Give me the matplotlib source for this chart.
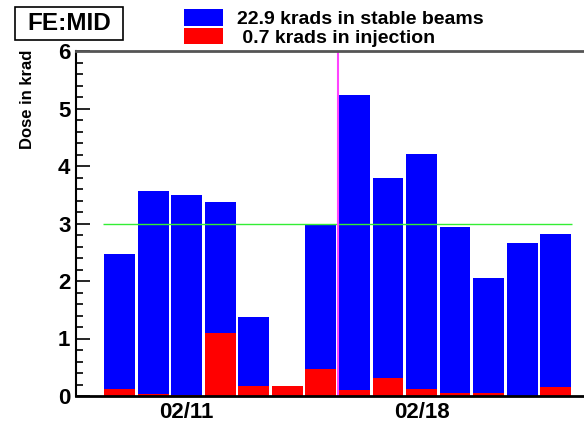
import matplotlib
matplotlib.use('Agg')
import matplotlib.pyplot as plt
from matplotlib.patches import Rectangle
from matplotlib.ticker import MultipleLocator
import numpy as np

plt.rcParams['font.family'] = ['Liberation Sans', 'DejaVu Sans']
plt.rcParams['font.weight'] = 'bold'

# one bar per day, 02/09 .. 02/22
days = ['02/09', '02/10', '02/11', '02/12', '02/13', '02/14', '02/15',
        '02/16', '02/17', '02/18', '02/19', '02/20', '02/21', '02/22']
stable = [2.47, 3.57, 3.50, 3.37, 1.37, 0.0, 3.00,
          5.23, 3.79, 4.21, 2.94, 2.05, 2.66, 2.82]
injection = [0.12, 0.04, 0.02, 1.10, 0.18, 0.18, 0.47,
             0.11, 0.32, 0.12, 0.05, 0.05, 0.0, 0.16]
shown_days = ['02/11', '02/18']
threshold = 3.0
marker_pos = 6.5   # between 02/15 and 02/16

label_stable = '22.9 krads in stable beams'
label_inj = ' 0.7 krads in injection'
title = 'FE:MID'

W, H = 584, 422
fig = plt.figure(figsize=(W / 100, H / 100), dpi=100)
ax = fig.add_axes([76 / W, 26 / H, (606 - 76) / W, 345 / H])

x = np.arange(len(days))
b1 = ax.bar(x, stable, width=0.92, color='#0000ff', label=label_stable)
b2 = ax.bar(x, injection, width=0.92, color='#ff0000', label=label_inj)

ax.hlines(threshold, x[0] - 0.5, x[-1] + 0.5, color='#33ee33', lw=1.0)
ax.axvline(marker_pos, color='#ff44ff', lw=1.5)

ax.set_xlim(-1.3, 14.5)
ax.set_ylim(0, 6)

ax.spines['right'].set_visible(False)
ax.spines['left'].set_linewidth(1.5)
ax.spines['bottom'].set_linewidth(2)
ax.spines['top'].set_linewidth(2)
ax.spines['top'].set_color('#555555')

ax.yaxis.set_major_locator(MultipleLocator(1))
ax.yaxis.set_minor_locator(MultipleLocator(0.2))
ax.tick_params(axis='y', which='major', direction='in', length=10, width=1.2,
               labelsize=16, pad=4)
ax.tick_params(axis='y', which='minor', direction='in', length=5, width=1.2)

ax.set_xticks([days.index(d) for d in shown_days])
ax.set_xticklabels(shown_days)
ax.tick_params(axis='x', length=0, labelsize=16, pad=4)

fig.text(28 / W, 1 - 50 / H, 'Dose in krad', rotation=90, ha='center',
         va='top', fontsize=12, fontweight='bold')

# title box
fig.add_artist(Rectangle((15 / W, 1 - 40 / H), 108 / W, 33 / H,
                         transform=fig.transFigure, fc='white', ec='black',
                         lw=1.2))
fig.text(69 / W, 1 - 24 / H, title, ha='center', va='center', fontsize=17.5,
         fontweight='bold')

fig.legend(handles=[b1, b2], loc='upper left',
           bbox_to_anchor=(184 / W, 1 - 9 / H), frameon=False,
           handlelength=2.0, handleheight=0.93,
           handletextpad=0.72, labelspacing=0, borderpad=0,
           borderaxespad=0, prop={'weight': 'bold', 'size': 14})

fig.savefig('out.png', dpi=100)
